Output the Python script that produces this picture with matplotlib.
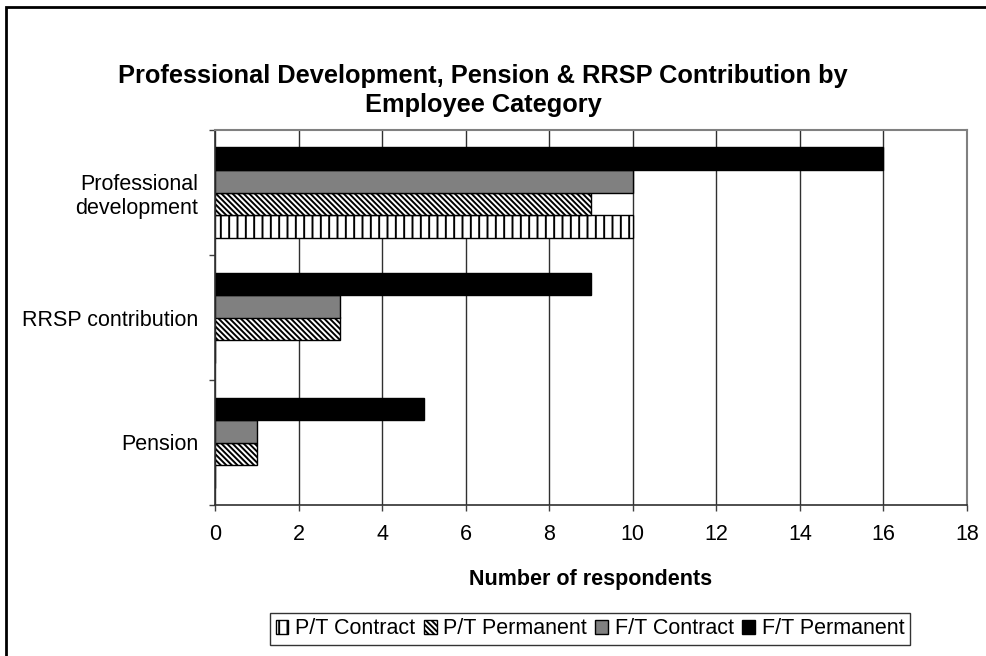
import matplotlib
matplotlib.use("Agg")
import matplotlib.pyplot as plt
import numpy as np
from matplotlib.patches import Rectangle

plt.rcParams['font.family'] = ['Liberation Sans', 'DejaVu Sans']
plt.rcParams['hatch.linewidth'] = 1.4

categories = ["Pension", "RRSP contribution", "Professional\ndevelopment"]
series_names = ["P/T Contract", "P/T Permanent", "F/T Contract", "F/T Permanent"]
pt_contract = [0, 0, 10]
pt_permanent = [1, 3, 9]
ft_contract = [1, 3, 10]
ft_permanent = [5, 9, 16]
x_ticks = [0, 2, 4, 6, 8, 10, 12, 14, 16, 18]

series = [pt_contract, pt_permanent, ft_contract, ft_permanent]
faces = ["white", "white", "#808080", "black"]
hatches = ["||", "\\" * 6, None, None]

fig = plt.figure(figsize=(9.87, 6.56), dpi=100)
ax = fig.add_axes([215/987, 1-505/656, (967-215)/987, (505-130)/656])

n = len(series)
bw = 0.18
y = np.arange(len(categories))
for i, (vals, fc, h) in enumerate(zip(series, faces, hatches)):
    offs = (i - (n-1)/2) * bw
    ax.barh(y + offs, vals, height=bw, color=fc, edgecolor="black",
            hatch=h, linewidth=1.0, label=series_names[i], zorder=3)

ax.set_xlim(0, 18)
ax.set_ylim(-0.5, 2.5)
ax.set_xticks(x_ticks)
ax.set_xticklabels([str(t) for t in x_ticks], fontsize=15.5)
ax.set_yticks(y)
ax.set_yticklabels(categories, fontsize=15.5)
ax.set_yticks([-0.5, 0.5, 1.5, 2.5], minor=True)
ax.tick_params(axis='y', which='major', length=0, pad=12)
ax.tick_params(axis='y', which='minor', length=4, width=1, color='#404040', direction='out')
ax.tick_params(axis='x', which='major', length=4, width=1, color='#404040', direction='out', pad=10)
ax.grid(axis='x', color='#303030', linewidth=1, zorder=0)
for lab in ax.get_yticklabels():
    lab.set_multialignment('right')

for s in ['top', 'right']:
    ax.spines[s].set_color('#808080')
    ax.spines[s].set_linewidth(1.5)
for s in ['left', 'bottom']:
    ax.spines[s].set_color('#303030')
    ax.spines[s].set_linewidth(1.2)
for s in ax.spines.values():
    s.set_zorder(5)

ax.set_xlabel("Number of respondents", fontsize=15.5, fontweight='bold', labelpad=17)

fig.text(483/987, 1-90.5/656, "Professional Development, Pension & RRSP Contribution by\nEmployee Category",
         ha='center', va='center', fontsize=18.3, fontweight='bold', linespacing=1.25)

leg = ax.legend(loc='center', bbox_to_anchor=(590/987, 1-629/656), bbox_transform=fig.transFigure,
                ncol=4, fontsize=15.5, frameon=True, fancybox=False, edgecolor='black',
                handlelength=0.6, handleheight=0.6, handletextpad=0.3, columnspacing=0.4,
                borderpad=0.25, borderaxespad=0)
leg.get_frame().set_linewidth(1.0)

fig.patches.append(Rectangle((6/987, -0.1), 1.2, 1 - 7/656 + 0.1, transform=fig.transFigure,
                             fill=False, edgecolor='black', linewidth=2, zorder=10))

fig.savefig("out.png", dpi=100)
